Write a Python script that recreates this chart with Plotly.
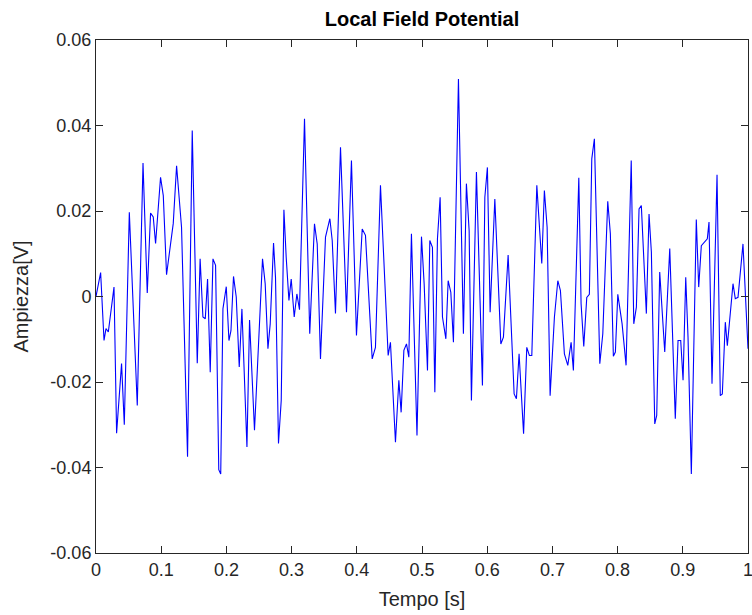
import plotly.graph_objects as go

# Local field potential trace: time (s) and amplitude (V)
tempo = [
    0.0000, 0.0071, 0.0123, 0.0153, 0.0189, 0.0276, 0.0316, 0.0392, 0.0434, 0.0511,
    0.0633, 0.0721, 0.0786, 0.0837, 0.0878, 0.0914, 0.0990, 0.1032, 0.1082, 0.1185,
    0.1236, 0.1312, 0.1404, 0.1476, 0.1553, 0.1597, 0.1640, 0.1676, 0.1711, 0.1752,
    0.1794, 0.1834, 0.1883, 0.1913, 0.1947, 0.1998, 0.2039, 0.2070, 0.2109, 0.2151,
    0.2197, 0.2238, 0.2315, 0.2355, 0.2431, 0.2493, 0.2554, 0.2595, 0.2637, 0.2672,
    0.2723, 0.2753, 0.2799, 0.2841, 0.2882, 0.2917, 0.2959, 0.2994, 0.3040, 0.3081,
    0.3121, 0.3198, 0.3278, 0.3351, 0.3393, 0.3443, 0.3520, 0.3587, 0.3623, 0.3673,
    0.3750, 0.3842, 0.3918, 0.3995, 0.4083, 0.4133, 0.4236, 0.4286, 0.4363, 0.4481,
    0.4516, 0.4593, 0.4645, 0.4680, 0.4722, 0.4762, 0.4798, 0.4838, 0.4923, 0.4992,
    0.5033, 0.5084, 0.5120, 0.5160, 0.5197, 0.5237, 0.5278, 0.5314, 0.5366, 0.5401,
    0.5442, 0.5482, 0.5559, 0.5635, 0.5681, 0.5723, 0.5758, 0.5835, 0.5927, 0.5964,
    0.6003, 0.6045, 0.6117, 0.6209, 0.6249, 0.6321, 0.6413, 0.6448, 0.6489, 0.6558,
    0.6607, 0.6647, 0.6684, 0.6761, 0.6837, 0.6877, 0.6919, 0.6965, 0.7031, 0.7083,
    0.7123, 0.7184, 0.7236, 0.7287, 0.7322, 0.7405, 0.7440, 0.7481, 0.7527, 0.7567,
    0.7604, 0.7644, 0.7727, 0.7773, 0.7849, 0.7889, 0.7935, 0.7966, 0.8003, 0.8069,
    0.8130, 0.8209, 0.8248, 0.8288, 0.8329, 0.8364, 0.8441, 0.8482, 0.8518, 0.8570,
    0.8600, 0.8646, 0.8723, 0.8800, 0.8885, 0.8927, 0.8968, 0.9004, 0.9045, 0.9080,
    0.9131, 0.9207, 0.9244, 0.9284, 0.9352, 0.9376, 0.9402, 0.9448, 0.9525, 0.9575,
    0.9606, 0.9652, 0.9683, 0.9770, 0.9805, 0.9847, 0.9923, 1.0000,
]

ampiezza = [
    0.0000, 0.0056, -0.0103, -0.0075, -0.0083, 0.0022, -0.0320, -0.0157, -0.0300, 0.0197,
    -0.0255, 0.0312, 0.0008, 0.0195, 0.0186, 0.0124, 0.0279, 0.0236, 0.0051, 0.0171,
    0.0306, 0.0162, -0.0375, 0.0388, -0.0156, 0.0088, -0.0048, -0.0052, 0.0041, -0.0177,
    0.0088, 0.0073, -0.0405, -0.0415, -0.0029, 0.0023, -0.0103, -0.0080, 0.0047, -0.0001,
    -0.0165, -0.0029, -0.0352, -0.0055, -0.0313, -0.0119, 0.0088, 0.0030, -0.0122, -0.0064,
    0.0125, 0.0045, -0.0344, -0.0243, 0.0203, 0.0092, -0.0009, 0.0041, -0.0048, 0.0006,
    -0.0031, 0.0416, -0.0087, 0.0170, 0.0123, -0.0146, 0.0139, 0.0182, 0.0131, -0.0040,
    0.0349, -0.0037, 0.0318, -0.0091, 0.0158, 0.0143, -0.0146, -0.0119, 0.0260, -0.0138,
    -0.0107, -0.0341, -0.0196, -0.0271, -0.0126, -0.0111, -0.0142, 0.0147, -0.0325, 0.0140,
    0.0030, -0.0173, 0.0131, 0.0115, -0.0224, 0.0135, 0.0232, -0.0048, -0.0099, 0.0037,
    0.0010, -0.0107, 0.0509, -0.0087, 0.0264, 0.0154, -0.0243, 0.0291, -0.0208, 0.0232,
    0.0302, -0.0037, 0.0228, -0.0111, -0.0095, 0.0097, -0.0228, -0.0239, -0.0134, -0.0321,
    -0.0119, -0.0138, -0.0138, 0.0260, 0.0077, 0.0248, 0.0162, -0.0232, -0.0048, 0.0037,
    0.0014, -0.0134, -0.0161, -0.0107, -0.0173, 0.0278, -0.0017, -0.0117, -0.0002, 0.0005,
    0.0322, 0.0369, -0.0157, -0.0087, 0.0223, 0.0147, -0.0140, -0.0130, 0.0005, -0.0064,
    -0.0161, 0.0318, -0.0064, -0.0025, 0.0205, 0.0213, -0.0040, 0.0193, 0.0104, -0.0298,
    -0.0278, 0.0057, -0.0130, 0.0112, -0.0286, -0.0103, -0.0103, -0.0196, 0.0045, -0.0095,
    -0.0415, 0.0180, 0.0022, 0.0119, 0.0131, 0.0135, 0.0174, -0.0204, 0.0285, -0.0232,
    -0.0228, -0.0060, -0.0115, 0.0030, -0.0005, -0.0002, 0.0123, -0.0122,
]

x_ticks = [0, 0.1, 0.2, 0.3, 0.4, 0.5, 0.6, 0.7, 0.8, 0.9, 1]
x_tick_text = ["0", "0.1", "0.2", "0.3", "0.4", "0.5", "0.6", "0.7", "0.8", "0.9", "1"]
y_ticks = [-0.06, -0.04, -0.02, 0, 0.02, 0.04, 0.06]
y_tick_text = ["-0.06", "-0.04", "-0.02", "0", "0.02", "0.04", "0.06"]

axis_color = "#262626"
font_family = "Liberation Sans, Arial, sans-serif"

fig = go.Figure(
    go.Scatter(
        x=tempo,
        y=ampiezza,
        mode="lines",
        line=dict(color="#0000ff", width=1.1),
        hoverinfo="x+y",
    )
)

axis_common = dict(
    showgrid=False,
    zeroline=False,
    showline=True,
    linecolor=axis_color,
    linewidth=1,
    mirror="ticks",
    ticks="inside",
    ticklen=7,
    tickwidth=1,
    tickcolor=axis_color,
    ticklabeloverflow="allow",
    automargin=False,
    tickfont=dict(family=font_family, size=18, color=axis_color),
)

fig.update_xaxes(
    range=[0, 1],
    tickvals=x_ticks,
    ticktext=x_tick_text,
    title=dict(text="Tempo [s]", font=dict(family=font_family, size=20, color=axis_color), standoff=13),
    **axis_common,
)
fig.update_yaxes(
    range=[-0.06, 0.06],
    tickvals=y_ticks,
    ticktext=y_tick_text,
    title=dict(text="Ampiezza[V]", font=dict(family=font_family, size=20, color=axis_color), standoff=16),
    **axis_common,
)

fig.update_layout(
    width=752,
    height=615,
    margin=dict(l=96, r=4, t=40, b=62),
    paper_bgcolor="white",
    plot_bgcolor="white",
    showlegend=False,
    title=dict(
        text="<b>Local Field Potential</b>",
        x=0.5,
        xref="paper",
        xanchor="center",
        y=1 - 19 / 615,
        yref="container",
        yanchor="middle",
        font=dict(family=font_family, size=20, color="#000000"),
    ),
)

fig.write_html("out.html")
